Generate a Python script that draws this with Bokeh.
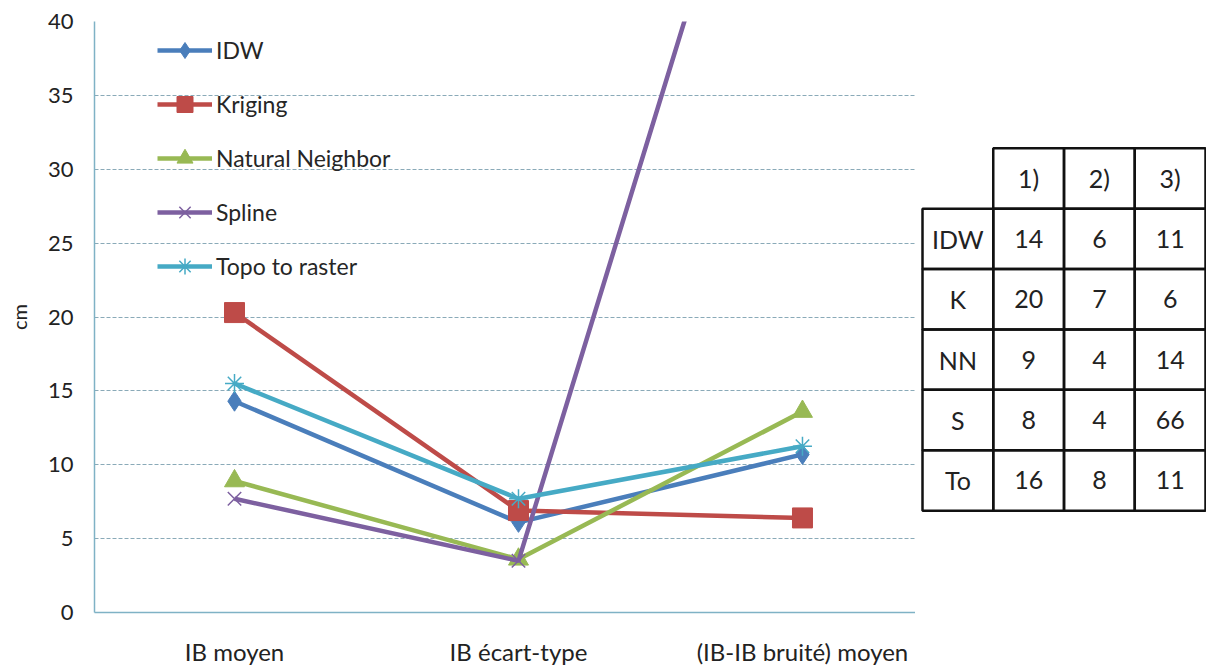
from bokeh.plotting import figure
from bokeh.models import Range1d, FixedTicker, Legend, ColumnDataSource
from bokeh.layouts import row
from bokeh.embed import file_html
from bokeh.resources import INLINE
from bokeh.core.properties import value

# ---- data ----
categories = ["IB moyen", "IB écart-type", "(IB-IB bruité) moyen"]
idw = [14.3, 6.1, 10.7]
kriging = [20.3, 6.9, 6.4]
natural_neighbor = [8.9, 3.6, 13.6]
spline = [7.7, 3.5, 66.0]
topo_to_raster = [15.5, 7.7, 11.25]
y_ticks = [0, 5, 10, 15, 20, 25, 30, 35, 40]

table_rows = ["IDW", "K", "NN", "S", "To"]
table_cols = ["1)", "2)", "3)"]
table_values = [[14, 6, 11], [20, 7, 6], [9, 4, 14], [8, 4, 66], [16, 8, 11]]

series = [
    ("IDW", idw, "#4A7EBB", "diamond"),
    ("Kriging", kriging, "#BE4B48", "square"),
    ("Natural Neighbor", natural_neighbor, "#98B954", "triangle"),
    ("Spline", spline, "#7D60A0", "x"),
    ("Topo to raster", topo_to_raster, "#46AAC5", "asterisk"),
]

FONT = "Lato"
xs = list(range(len(categories)))

p = figure(width=915, height=668, output_backend="svg", toolbar_location=None,
           x_range=Range1d(-0.493, 2.398), y_range=Range1d(0, 40),
           min_border_left=94, min_border_right=0, min_border_top=21,
           min_border_bottom=55)
p.outline_line_color = None
p.background_fill_color = "white"

p.xaxis.ticker = FixedTicker(ticks=xs)
p.xaxis.major_label_overrides = {i: c for i, c in enumerate(categories)}
p.yaxis.ticker = FixedTicker(ticks=y_ticks)
for ax in (p.xaxis, p.yaxis):
    ax.axis_line_color = "#7FB2C5"
    ax.axis_line_width = 1.5
    ax.major_tick_line_color = None
    ax.minor_tick_line_color = None
    ax.major_tick_out = 0
    ax.major_tick_in = 0
    ax.major_label_text_font = FONT
    ax.major_label_text_color = "#222222"
p.xaxis.major_label_text_font_size = "24px"
p.yaxis.major_label_text_font_size = "22px"
p.xaxis.major_label_standoff = 24
p.yaxis.major_label_standoff = 21
p.yaxis.axis_label = "cm"
p.yaxis.axis_label_text_font = FONT
p.yaxis.axis_label_text_font_style = "normal"
p.yaxis.axis_label_text_font_size = "20px"
p.yaxis.axis_label_text_color = "#222222"
p.yaxis.axis_label_standoff = 14

p.xgrid.grid_line_color = None
p.ygrid.grid_line_color = "#8AAAB8"
p.ygrid.grid_line_dash = "4 2"
p.ygrid.grid_line_width = 1

legend_items = []
for name, vals, color, marker in series:
    r1 = p.line(xs, vals, line_color=color, line_width=4.5)
    if marker in ("x", "asterisk"):
        r2 = p.scatter(xs, vals, marker=marker, size=19, line_color=color,
                       line_width=1.5, fill_color=None)
    else:
        r2 = p.scatter(xs, vals, marker=marker, size=20, line_color=color,
                       fill_color=color)
    legend_items.append((name, [r1, r2]))

legend = Legend(items=legend_items, location=(63, 326))
legend.border_line_color = None
legend.background_fill_alpha = 0
legend.padding = 0
legend.margin = 0
legend.glyph_width = 55
legend.glyph_height = 40
legend.label_height = 40
legend.spacing = 14
legend.label_standoff = 4
legend.label_text_font = FONT
legend.label_text_font_size = "23px"
legend.label_text_color = "#262626"
p.add_layout(legend, "center")

# ---- table (its frame is aligned with the chart frame by the row layout) ----
t = figure(width=291, height=668, output_backend="svg", toolbar_location=None,
           x_range=Range1d(-0.599, 3.514), y_range=Range1d(7.186, -2.599),
           min_border_left=0, min_border_right=0, min_border_top=21,
           min_border_bottom=55)
t.axis.visible = False
t.grid.visible = False
t.outline_line_color = None

cx, cy, ct = [], [], []
for j, c in enumerate(table_cols):
    cx.append(j + 1); cy.append(0); ct.append(c)
for i, rname in enumerate(table_rows):
    cx.append(0); cy.append(i + 1); ct.append(rname)
    for j, v in enumerate(table_values[i]):
        cx.append(j + 1); cy.append(i + 1); ct.append(str(v))
src = ColumnDataSource(dict(x=cx, y=cy, t=ct))
t.rect(x="x", y="y", width=1, height=1, source=src, fill_color=None,
       line_color="#111111", line_width=2.5)
t.text(x="x", y="y", text="t", source=src, text_align="center",
       text_baseline="middle", text_font=value(FONT), text_font_size="25px",
       text_color="#222222")

layout = row(p, t)
open("out.html", "w").write(file_html(layout, INLINE))
